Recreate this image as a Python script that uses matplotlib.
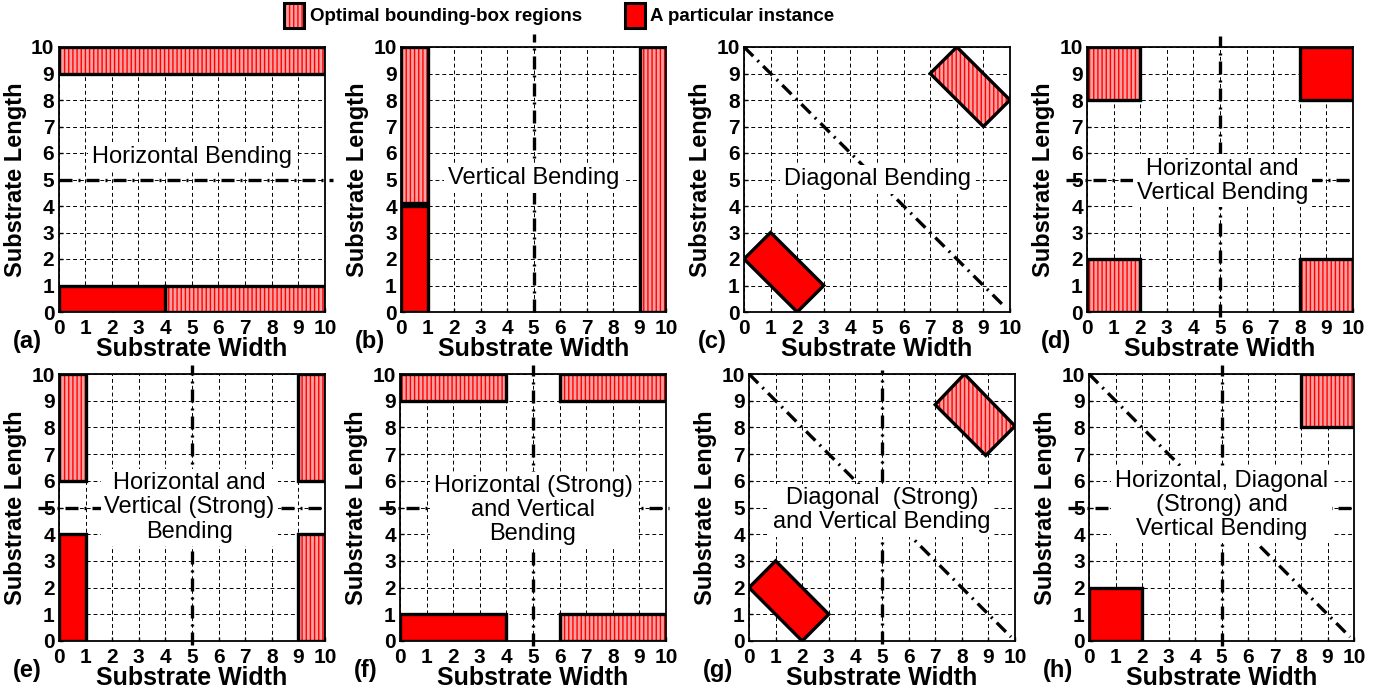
import matplotlib
matplotlib.use('Agg')
import matplotlib.pyplot as plt
from matplotlib.patches import Rectangle, Polygon, Patch
from matplotlib.legend_handler import HandlerTuple

plt.rcParams['font.family'] = ['Liberation Sans', 'DejaVu Sans']
plt.rcParams['hatch.linewidth'] = 1.0

# ---------------- data ----------------
panel_ids = ['a', 'b', 'c', 'd', 'e', 'f', 'g', 'h']
panel_labels = ['(a)', '(b)', '(c)', '(d)', '(e)', '(f)', '(g)', '(h)']
ticks = [0, 1, 2, 3, 4, 5, 6, 7, 8, 9, 10]
x_label = 'Substrate Width'
y_label = 'Substrate Length'
legend_labels = ['Optimal bounding-box regions', 'A particular instance']

annotations = {
    'a': 'Horizontal Bending',
    'b': 'Vertical Bending',
    'c': 'Diagonal Bending',
    'd': 'Horizontal and\nVertical Bending',
    'e': 'Horizontal and\nVertical (Strong)\nBending',
    'f': 'Horizontal (Strong)\nand Vertical\nBending',
    'g': 'Diagonal  (Strong)\nand Vertical Bending',
    'h': 'Horizontal, Diagonal\n(Strong) and\nVertical Bending',
}
annotation_xy = {
    'a': (5.0, 5.85), 'b': (5.0, 5.05), 'c': (5.0, 5.0), 'd': (5.1, 4.95),
    'e': (4.9, 5.0), 'f': (5.0, 4.9), 'g': (5.0, 4.9), 'h': (5.0, 5.1),
}

# rectangles: (x, y, width, height)
optimal_rects = {
    'a': [(0, 9, 10, 1), (4, 0, 6, 1)],
    'b': [(0, 4.1, 1, 5.9), (9, 0, 1, 10)],
    'c': [],
    'd': [(0, 8, 2, 2), (0, 0, 2, 2), (8, 0, 2, 2)],
    'e': [(0, 6, 1, 4), (9, 6, 1, 4), (9, 0, 1, 4)],
    'f': [(0, 9, 4, 1), (6, 9, 4, 1), (6, 0, 4, 1)],
    'g': [],
    'h': [(8, 8, 2, 2)],
}
instance_rects = {
    'a': [(0, 0, 4, 1)],
    'b': [(0, 0, 1, 4)],
    'c': [],
    'd': [(8, 8, 2, 2)],
    'e': [(0, 0, 1, 4)],
    'f': [(0, 0, 4, 1)],
    'g': [],
    'h': [(0, 0, 2, 2)],
}
optimal_polys = {
    'c': [[(7, 9), (8, 10), (10, 8), (9, 7)]],
    'g': [[(7, 8.85), (8.1, 10), (10, 8.05), (8.9, 6.95)]],
}
instance_polys = {
    'c': [[(0, 2), (1, 3), (3, 1), (2, 0)]],
    'g': [[(0, 2), (1, 3), (3, 1), (2, 0)]],
}
# bending axes: horizontal (x0, x1) at y=5, vertical (y0, y1) at x=5, diagonal
horizontal_bend = {'a': (0, 10.3), 'd': (-0.8, 10.05), 'e': (-0.8, 10.05),
                   'f': (-0.8, 10.1), 'h': (-0.8, 10.1)}
vertical_bend = {'b': (0, 10.5), 'd': (-0.2, 10.4), 'e': (-0.15, 10.35),
                 'f': (-0.2, 10.35), 'g': (-0.1, 10.15), 'h': (-0.2, 10.35)}
diagonal_bend = {'c': [(0, 10), (9.85, 0.15)], 'g': [(0, 10), (9.85, 0.15)],
                 'h': [(0, 10), (9.85, 0.15)]}

# ---------------- style ----------------
W, H = 1392, 694
axes_px = {  # left, right, top, bottom in pixels
    'a': (58.5, 325, 47, 312), 'b': (401, 666, 47, 312),
    'c': (744, 1010, 47, 312), 'd': (1087, 1353, 47, 312),
    'e': (59, 325, 374, 641), 'f': (400, 666, 374, 641),
    'g': (749, 1015, 374, 641), 'h': (1089, 1354, 374, 641),
}
PINK = '#ff9f9f'
RED = '#ff0000'
EDGE_LW = 2.4
BEND_LS = (0, (3.9, 1.8, 0.6, 1.8))
BEND_LW = 2.4
TICK_FS = 15
XLAB_FS = 18
YLAB_FS = 17
ANN_FS = 17

fig = plt.figure(figsize=(W / 100, H / 100), dpi=100)


def add_optimal(ax, patch_factory):
    ax.add_patch(patch_factory(facecolor=PINK, edgecolor=RED, hatch='||||',
                               linewidth=0, zorder=2))
    ax.add_patch(patch_factory(fill=False, edgecolor='black',
                               linewidth=EDGE_LW, zorder=2.5))


for pid, plabel in zip(panel_ids, panel_labels):
    l, r, t, b = axes_px[pid]
    ax = fig.add_axes([l / W, 1 - b / H, (r - l) / W, (b - t) / H])
    ax.set_xlim(0, 10)
    ax.set_ylim(0, 10)
    ax.set_xticks(ticks)
    ax.set_yticks(ticks)
    ax.set_xticklabels([str(v) for v in ticks], fontweight='bold', fontsize=TICK_FS)
    ax.set_yticklabels([str(v) for v in ticks], fontweight='bold', fontsize=TICK_FS)
    ax.tick_params(direction='in', length=3, width=1)
    ax.tick_params(axis='x', pad=5)
    ax.tick_params(axis='y', pad=3)
    ax.set_axisbelow(True)
    ax.grid(True, color='black', linestyle=(0, (4, 3)), linewidth=0.7)
    for s in ax.spines.values():
        s.set_linewidth(1.3)
    ax.set_xlabel(x_label, fontweight='bold', fontsize=XLAB_FS, labelpad=-1)
    ax.set_ylabel(y_label, fontweight='bold', fontsize=YLAB_FS, labelpad=3)

    for (x, y, w, h) in optimal_rects[pid]:
        add_optimal(ax, lambda **kw: Rectangle((x, y), w, h, **kw))
    for pts in optimal_polys.get(pid, []):
        add_optimal(ax, lambda **kw: Polygon(pts, closed=True, **kw))
    for (x, y, w, h) in instance_rects[pid]:
        ax.add_patch(Rectangle((x, y), w, h, facecolor=RED, edgecolor='black',
                               linewidth=EDGE_LW, zorder=2.5))
    for pts in instance_polys.get(pid, []):
        ax.add_patch(Polygon(pts, closed=True, facecolor=RED, edgecolor='black',
                             linewidth=EDGE_LW, zorder=2.5))

    if pid in horizontal_bend:
        x0, x1 = horizontal_bend[pid]
        ax.plot([x0, x1], [5, 5], color='black', lw=BEND_LW, ls=BEND_LS,
                clip_on=False, zorder=3)
    if pid in vertical_bend:
        y0, y1 = vertical_bend[pid]
        ax.plot([5, 5], [y0, y1], color='black', lw=BEND_LW, ls=BEND_LS,
                clip_on=False, zorder=3)
    if pid in diagonal_bend:
        (x0, y0), (x1, y1) = diagonal_bend[pid]
        ax.plot([x0, x1], [y0, y1], color='black', lw=BEND_LW, ls=BEND_LS,
                clip_on=False, zorder=3)

    tx, ty = annotation_xy[pid]
    ax.text(tx, ty, annotations[pid], ha='center', va='center', fontsize=ANN_FS,
            linespacing=1.12, zorder=6,
            bbox=dict(boxstyle='square,pad=0.15', facecolor='white',
                      edgecolor='none'))

    fig.text((l - 46) / W, 1 - (b + 29) / H, plabel, fontweight='bold',
             fontsize=17, ha='left', va='center')

# legend
h_opt = (Patch(facecolor=PINK, edgecolor=RED, hatch='||||', linewidth=0),
         Patch(fill=False, edgecolor='black', linewidth=2.2))
h_inst = Patch(facecolor=RED, edgecolor='black', linewidth=2.2)
fig.legend([h_opt, h_inst], legend_labels, loc='upper left',
           bbox_to_anchor=(282 / W, 1 - 1 / H), ncol=2, frameon=False,
           prop=dict(family=['Liberation Sans Narrow', 'Liberation Sans'],
                     weight='bold', size=13.5),
           handlelength=1.07, handleheight=1.65, columnspacing=2.3,
           handletextpad=0.3, borderaxespad=0.0, borderpad=0.1,
           handler_map={tuple: HandlerTuple(ndivide=1)})

fig.savefig('out.png', dpi=100)
